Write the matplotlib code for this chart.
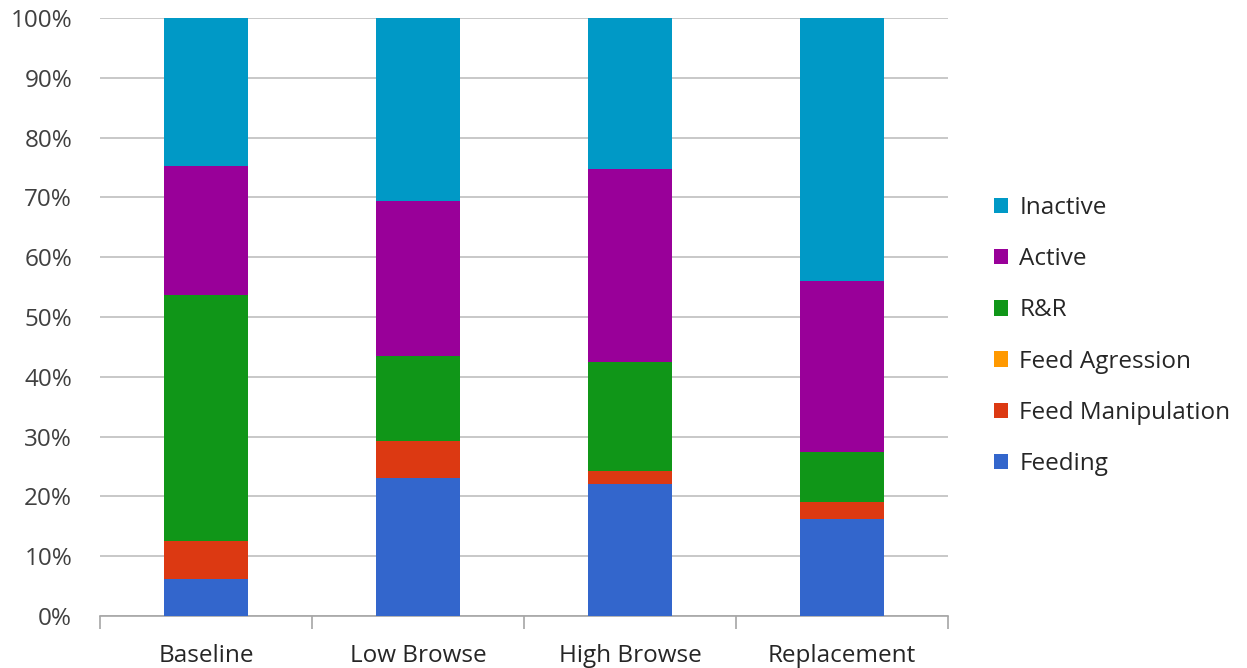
import matplotlib
matplotlib.use("Agg")
import matplotlib.pyplot as plt
from matplotlib.patches import Patch
from matplotlib.ticker import FixedLocator, PercentFormatter

categories = ["Baseline", "Low Browse", "High Browse", "Replacement"]
series_names = ["Feeding", "Feed Manipulation", "Feed Agression", "R&R", "Active", "Inactive"]
feeding = [6.2, 23.0, 22.1, 16.2]
feed_manipulation = [6.3, 6.3, 2.1, 2.9]
feed_agression = [0.0, 0.0, 0.0, 0.0]
r_and_r = [41.1, 14.2, 18.3, 8.4]
active = [21.7, 25.9, 32.2, 28.6]
inactive = [24.7, 30.6, 25.3, 43.9]
colors = ["#3366CC", "#DC3912", "#FF9900", "#109618", "#990099", "#0099C6"]

plt.rcParams["font.family"] = ["Open Sans", "DejaVu Sans"]

fig = plt.figure(figsize=(12.47, 6.68), dpi=100)
ax = fig.add_axes([100 / 1247, 1 - 616 / 668, 848 / 1247, 598 / 668])

values = [feeding, feed_manipulation, feed_agression, r_and_r, active, inactive]
x = list(range(len(categories)))
bottom = [0.0] * len(categories)
for name, vals, col in zip(series_names, values, colors):
    ax.bar(x, vals, width=0.4, bottom=bottom, color=col, label=name, zorder=3)
    bottom = [b + v for b, v in zip(bottom, vals)]

ax.set_xlim(-0.5, len(categories) - 0.5)
ax.set_ylim(0, 100)
ax.yaxis.set_major_formatter(PercentFormatter(decimals=0))
ax.set_yticks(range(0, 101, 10))
ax.tick_params(axis="y", length=0, labelsize=17.5, colors="#404040", pad=20)
ax.grid(axis="y", color="#BFBFBF", linewidth=1.2, zorder=0)

ax.set_xticks(x)
ax.set_xticklabels(categories)
ax.tick_params(axis="x", which="major", length=0, labelsize=17.5, colors="#262626", pad=20)
ax.xaxis.set_minor_locator(FixedLocator([i - 0.5 for i in range(len(categories) + 1)]))
ax.tick_params(axis="x", which="minor", length=9, width=1.2, color="#A6A6A6", direction="out")

for side in ["top", "right", "left"]:
    ax.spines[side].set_visible(False)
ax.spines["bottom"].set_color("#A6A6A6")
ax.spines["bottom"].set_linewidth(1.2)

handles = [Patch(facecolor=c, label=n) for n, c in zip(series_names, colors)][::-1]
fig.legend(handles=handles, loc="center left", bbox_to_anchor=(972 / 1247, 1 - 336 / 668),
           frameon=False, fontsize=17.5, handlelength=0.6, handleheight=0.6,
           handletextpad=0.45, labelspacing=1.12, labelcolor="#262626")

fig.savefig("out.png", dpi=100)
